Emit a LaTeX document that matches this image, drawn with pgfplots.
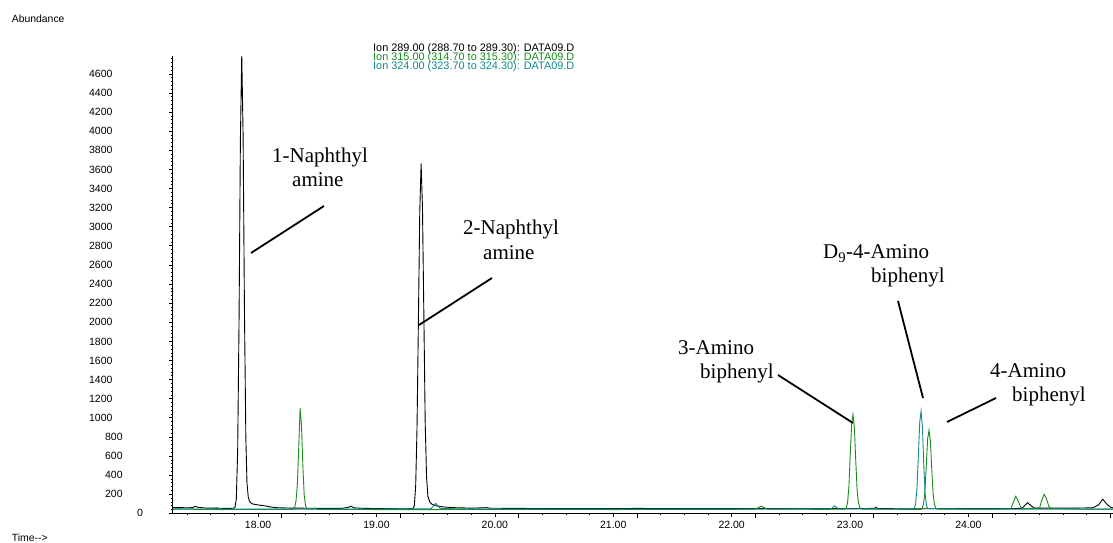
\documentclass[border=0pt]{standalone}
\usepackage{fontspec}
\setmainfont{Liberation Serif}
\newfontfamily\arial{Liberation Sans}
\usepackage{pgfplots}
\pgfplotsset{compat=1.18}
\definecolor{ionG}{RGB}{25,140,25}
\definecolor{ionT}{RGB}{20,135,140}
\newcommand\yA[1]{\makebox[53pt][l]{#1}}
\newcommand\yB[1]{\makebox[53pt][l]{\hspace{16pt}#1}}
\newcommand\yC[1]{\makebox[53pt][l]{\hspace{48pt}#1}}
\begin{document}
\begin{tikzpicture}[x=1pt,y=1pt]
\useasboundingbox (0,0) rectangle (1113,543);
\begin{axis}[
  at={(146,31)}, anchor=south west,
  scale only axis, width=940pt, height=457pt,
  xmin=17.28, xmax=25.22, ymin=0, ymax=4783,
  axis x line*=bottom, axis y line*=left,
  axis line style={-, line width=0.8pt, black},
  tick align=outside,
  tick style={black, line width=0.7pt},
  major tick length=3.5pt, minor tick length=2pt,
  xtick={18,19,20,21,22,23,24},
  xticklabels={18.00,19.00,20.00,21.00,22.00,23.00,24.00},
  minor xtick={17.4,17.6,...,25.21},
  extra x ticks={18.2,19.2,20.2,21.2,22.2,23.2,24.2,25.2},
  extra x tick labels={},
  extra x tick style={major tick length=5pt},
  ytick={0,200,...,4600},
  yticklabels={\yC{0},\yB{200},\yB{400},\yB{600},\yB{800},\yA{1000},\yA{1200},\yA{1400},\yA{1600},\yA{1800},\yA{2000},\yA{2200},\yA{2400},\yA{2600},\yA{2800},\yA{3000},\yA{3200},\yA{3400},\yA{3600},\yA{3800},\yA{4000},\yA{4200},\yA{4400},\yA{4600}},
  minor ytick={40,80,...,4780},
  scaled ticks=false,
  ticklabel style={font=\arial\fontsize{10.5}{12}\selectfont},
  yticklabel style={anchor=east, inner sep=0pt, xshift=-27pt},
  xticklabel style={anchor=north, inner sep=0pt, yshift=-4pt},
  /pgf/number format/assume math mode=true,
]
% Ion 289 (black)
\addplot[black, line width=0.9pt] coordinates {
(17.28,62) (17.35,60) (17.42,58) (17.45,62) (17.47,75) (17.49,64) (17.55,56) (17.65,54) (17.75,52) (17.79,54)
(17.8045,60) (17.816,150) (17.8275,650) (17.839,2000) (17.8505,3900) (17.862,4800) (17.8735,3950) (17.885,2100)
(17.8965,800) (17.906,320) (17.917,170) (17.93,120) (17.95,100) (17.98,92) (18.02,85) (18.06,78) (18.10,68)
(18.15,60) (18.25,56) (18.40,54) (18.55,52) (18.70,52) (18.76,62) (18.785,75) (18.81,58) (18.90,52) (19.10,50)
(19.25,48) (19.31,52) (19.3195,80) (19.331,280) (19.3425,900) (19.354,2000) (19.3655,3150) (19.377,3660)
(19.3885,3200) (19.40,2100) (19.4115,950) (19.423,380) (19.434,180) (19.45,120) (19.47,95) (19.50,80)
(19.56,68) (19.65,60) (19.80,55) (19.90,58) (19.93,60) (19.96,54) (20.2,52) (20.5,50) (21.0,50) (21.2,52)
(21.5,50) (22.0,50) (22.5,50) (23.0,50) (23.2,52) (23.22,62) (23.24,50) (23.5,48) (24.0,50) (24.3,50)
(24.45,52) (24.47,75) (24.50,112) (24.53,78) (24.56,55) (24.7,55) (24.9,55) (25.05,58) (25.10,90)
(25.135,148) (25.17,95) (25.20,65) (25.22,58)
};
% Ion 315 (green)
\addplot[ionG, line width=0.9pt] coordinates {
(17.28,45) (17.5,42) (17.7,40) (18.0,42) (18.29,42) (18.2975,45) (18.309,65) (18.3205,130) (18.332,310)
(18.3435,700) (18.355,1100) (18.3665,920) (18.378,500) (18.3895,190) (18.401,80) (18.4125,48) (18.46,44)
(18.48,55) (18.50,42) (19.0,40) (19.5,40) (20.0,42) (21.0,40) (22.0,42) (22.20,45) (22.25,75) (22.30,45)
(22.8,42) (22.955,45) (22.9675,55) (22.979,110) (22.9905,280) (23.002,620) (23.0135,930) (23.025,1035)
(23.0365,900) (23.048,560) (23.0595,250) (23.071,110) (23.0825,60) (23.095,45) (23.5,42) (23.60,42)
(23.6095,55) (23.621,100) (23.6325,230) (23.644,500) (23.6555,780) (23.667,870) (23.6785,760) (23.69,470)
(23.7015,210) (23.713,95) (23.7245,55) (23.735,45) (24.2,45) (24.36,48) (24.38,120) (24.40,178) (24.42,130)
(24.44,70) (24.46,50) (24.60,55) (24.62,140) (24.64,200) (24.66,150) (24.68,70) (24.70,50) (25.0,45) (25.22,45)
};
% Ion 324 (teal)
\addplot[ionT, line width=0.9pt] coordinates {
(17.28,48) (17.60,45) (17.65,60) (17.70,45) (18.5,44) (19.46,48) (19.50,105) (19.54,50) (20.0,45)
(21.0,44) (22.0,44) (22.84,48) (22.87,78) (22.90,48) (23.5,45) (23.53,47) (23.5425,50) (23.554,100) (23.5655,270)
(23.577,600) (23.5885,950) (23.60,1070) (23.6115,900) (23.623,500) (23.6345,200) (23.646,80) (23.6575,50)
(24.0,45) (25.22,45)
};
\end{axis}
% header and footer texts
\node[anchor=base west, inner sep=0pt, font=\arial\fontsize{10.4}{12}\selectfont] at (11.7,520) {Abundance};
\node[anchor=base west, inner sep=0pt, font=\arial\fontsize{10.4}{12}\selectfont] at (11.7,1.5) {Time-{}-{}>};
\node[anchor=base west, inner sep=0pt, font=\arial\fontsize{10.9}{12}\selectfont, black] at (373,491) {Ion 289.00 (288.70 to 289.30): DATA09.D};
\node[anchor=base west, inner sep=0pt, font=\arial\fontsize{10.9}{12}\selectfont, text=ionG] at (373,482) {Ion 315.00 (314.70 to 315.30): DATA09.D};
\node[anchor=base west, inner sep=0pt, font=\arial\fontsize{10.9}{12}\selectfont, text=ionT] at (373,473) {Ion 324.00 (323.70 to 324.30): DATA09.D};
% annotations
\begin{scope}[every node/.style={anchor=base west, inner sep=0pt, font=\fontsize{21}{24}\selectfont}]
\node at (272,380) {1-Naphthyl};
\node at (292,356) {amine};
\node at (463,308) {2-Naphthyl};
\node at (483,283) {amine};
\node at (678,188) {3-Amino};
\node at (700,164) {biphenyl};
\node at (823,284) {D\textsubscript{9}-4-Amino};
\node at (871,260) {biphenyl};
\node at (990,165) {4-Amino};
\node at (1012,141) {biphenyl};
\end{scope}
\begin{scope}[line width=1.8pt]
\draw (251,290) -- (324,337);
\draw (419,218) -- (492,265);
\draw (778,168) -- (853,120);
\draw (898,242) -- (923,145);
\draw (947,121) -- (996,145);
\end{scope}
\end{tikzpicture}
\end{document}
